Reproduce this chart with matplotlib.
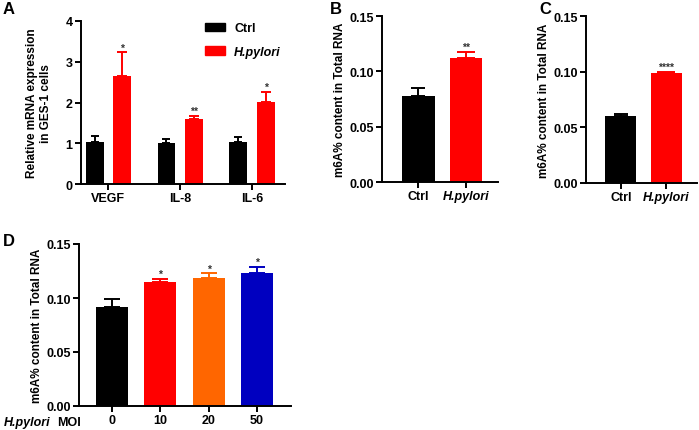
import matplotlib.pyplot as plt
import numpy as np
from matplotlib.patches import Patch

plt.rcParams['font.family'] = ['Liberation Sans', 'DejaVu Sans']
plt.rcParams['font.weight'] = 'bold'

# Panel A - relative mRNA expression
genes = ["VEGF", "IL-8", "IL-6"]
ctrl_a = [1.02, 1.00, 1.03]
ctrl_a_err = [0.17, 0.10, 0.12]
hp_a = [2.65, 1.60, 2.01]
hp_a_err = [0.58, 0.08, 0.25]
sig_a = ["*", "**", "*"]

# Panel B / C - m6A content
groups_bc = ["Ctrl", "H.pylori"]
b_vals = [0.0777, 0.1125]
b_err = [0.0075, 0.005]
c_vals = [0.060, 0.0985]
c_err = [0.002, 0.0015]

# Panel D - MOI series
moi = ["0", "10", "20", "50"]
d_vals = [0.0917, 0.1148, 0.1182, 0.1232]
d_err = [0.0073, 0.0025, 0.0045, 0.0052]
d_sig = ["", "*", "*", "*"]

RED = "#ff0000"
ORANGE = "#ff6600"
BLUE = "#0000c0"


def style_axis(ax):
    for s in ["top", "right"]:
        ax.spines[s].set_visible(False)
    for s in ["left", "bottom"]:
        ax.spines[s].set_linewidth(1.4)
    ax.tick_params(width=1.4, length=4, labelsize=9, pad=2)
    for lab in ax.get_yticklabels() + ax.get_xticklabels():
        lab.set_fontweight("bold")


def bar_up(ax, x, h, e, color, w, sig="", cap=6):
    ax.bar(x, h, width=w, color=color, zorder=2)
    ax.errorbar(x, h, yerr=[[0], [e]], fmt="none", ecolor=color,
                elinewidth=1.4, capsize=cap, capthick=1.4, zorder=1)
    if sig:
        ax.text(x, h + e, sig, ha="center", va="bottom", fontsize=7.5,
                color="#333333")


fig = plt.figure(figsize=(6.99, 4.31), dpi=100)

# ---- A ----
axA = fig.add_axes([81 / 699, 1 - 185 / 431, (285 - 81) / 699, (185 - 22) / 431])
xa = np.arange(len(genes))
for i in range(len(genes)):
    bar_up(axA, xa[i] - 0.19, ctrl_a[i], ctrl_a_err[i], "black", 0.25, cap=3)
    bar_up(axA, xa[i] + 0.19, hp_a[i], hp_a_err[i], RED, 0.25, sig_a[i], cap=3.5)
axA.set_xlim(-0.38, 2.46)
axA.set_ylim(0, 4)
axA.set_yticks([0, 1, 2, 3, 4])
axA.set_xticks(xa)
axA.set_xticklabels(genes)
axA.set_ylabel("Relative mRNA expression\nin GES-1 cells", fontsize=8.5,
                fontweight="bold", labelpad=10)
style_axis(axA)
leg = axA.legend(handles=[Patch(color="black", label="Ctrl"),
                          Patch(color=RED, label="H.pylori")],
                 loc="upper left", bbox_to_anchor=(0.555, 1.06), frameon=False,
                 fontsize=9, handlelength=1.6, handleheight=0.7,
                 labelspacing=0.9, handletextpad=0.7)
leg.get_texts()[0].set_fontweight("bold")
leg.get_texts()[1].set_fontweight("bold")
leg.get_texts()[1].set_fontstyle("italic")


def pair_panel(rect, vals, errs, sig):
    ax = fig.add_axes(rect)
    xs = np.arange(2)
    bar_up(ax, xs[0], vals[0], errs[0], "black", 0.68, cap=5)
    bar_up(ax, xs[1], vals[1], errs[1], RED, 0.68, sig, cap=6.5)
    ax.set_xlim(-0.77, 1.68)
    ax.set_ylim(0, 0.15)
    ax.set_yticks([0, 0.05, 0.10, 0.15])
    ax.set_yticklabels(["0.00", "0.05", "0.10", "0.15"])
    ax.set_xticks(xs)
    ax.set_xticklabels(groups_bc)
    ax.set_ylabel("m6A% content in Total RNA", fontsize=8.5,
                  fontweight="bold", labelpad=2)
    style_axis(ax)
    ax.get_xticklabels()[1].set_fontstyle("italic")
    return ax


axB = pair_panel([382 / 699, 1 - 183 / 431, (498 - 382) / 699, (183 - 17) / 431],
                 b_vals, b_err, "**")
axC = pair_panel([586 / 699, 1 - 184 / 431, (697 - 586) / 699, (184 - 17) / 431],
                 c_vals, c_err, "****")

# ---- D ----
axD = fig.add_axes([79 / 699, 1 - 407 / 431, (291 - 79) / 699, (407 - 245) / 431])
xd = np.arange(len(moi))
d_colors = ["black", RED, ORANGE, BLUE]
for i in range(len(moi)):
    bar_up(axD, xd[i], d_vals[i], d_err[i], d_colors[i], 0.66, d_sig[i], cap=5.5)
axD.set_xlim(-0.68, 3.7)
axD.set_ylim(0, 0.15)
axD.set_yticks([0, 0.05, 0.10, 0.15])
axD.set_yticklabels(["0.00", "0.05", "0.10", "0.15"])
axD.set_xticks(xd)
axD.set_xticklabels(moi)
axD.set_ylabel("m6A% content in Total RNA", fontsize=8.5, fontweight="bold",
               labelpad=2)
style_axis(axD)
fig.text(4 / 699, 1 - 423 / 431, "H.pylori", fontsize=9, fontweight="bold",
         fontstyle="italic", va="center")
fig.text(57 / 699, 1 - 423 / 431, "MOI", fontsize=9, fontweight="bold",
         va="center")

# panel letters
for lx, ly, letter in [(3, 9, "A"), (330, 9, "B"), (539, 9, "C"), (3, 242, "D")]:
    fig.text(lx / 699, 1 - ly / 431, letter, fontsize=12, fontweight="bold",
             va="center")

fig.savefig("out.png", dpi=100)
